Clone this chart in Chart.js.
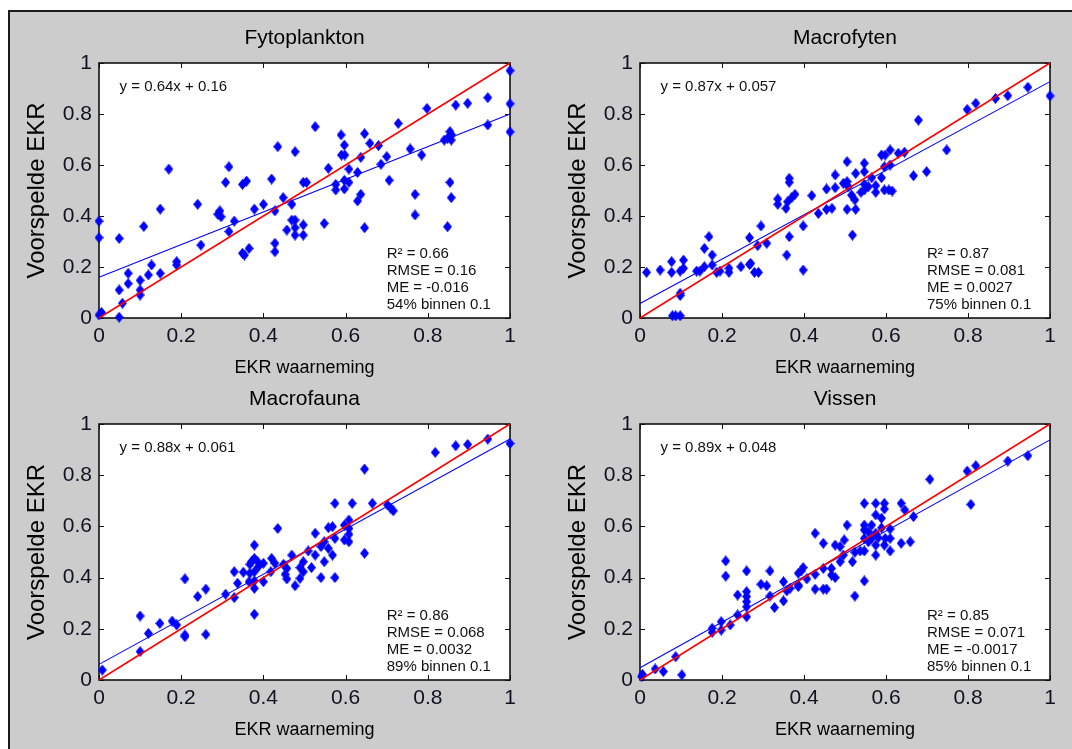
<!DOCTYPE html>
<html>
<head>
<meta charset="utf-8">
<title>EKR waarneming vs voorspelde EKR</title>
<script src="https://cdn.jsdelivr.net/npm/chart.js@4.4.1/dist/chart.umd.min.js"></script>
<style>
  html, body { margin: 0; padding: 0; background: #ffffff; width: 1072px; height: 749px; overflow: hidden; }
  #figure {
    position: absolute; left: 8px; top: 10px; width: 1100px; height: 800px;
    background: #cccccc; border-left: 2px solid #1a1a1a; border-top: 2px solid #1a1a1a;
  }
  canvas { position: absolute; }
</style>
</head>
<body>
<div id="figure"></div>
<canvas id="c1"></canvas>
<canvas id="c2"></canvas>
<canvas id="c3"></canvas>
<canvas id="c4"></canvas>
<script>
// ---- axis ticks shared by all four panels ----
const tickValues = [0, 0.2, 0.4, 0.6, 0.8, 1];
const tickLabels = ['0', '0.2', '0.4', '0.6', '0.8', '1'];

const xLabel = 'EKR waarneming';
const yLabel = 'Voorspelde EKR';

// ---- Fytoplankton ----
const fytoObs = [
  1.0,1.0,1.0,0.946,0.946,0.897,0.868,0.798,0.728,0.854,
  0.858,0.848,0.84,0.857,0.854,0.857,0.848,0.757,0.785,0.769,
  0.769,0.68,0.70,0.686,0.706,0.646,0.659,0.637,0.629,0.637,
  0.629,0.646,0.589,0.597,0.59,0.598,0.608,0.597,0.608,0.576,
  0.576,0.597,0.558,0.526,0.477,0.435,0.42,0.497,0.505,0.448,
  0.469,0.428,0.40,0.378,0.469,0.477,0.477,0.497,0.497,0.477,
  0.457,0.428,0.428,0.548,0.365,0.349,0.354,0.329,0.316,0.316,
  0.308,0.349,0.359,0.294,0.289,0.297,0.24,0.248,0.17,0.149,
  0.109,0.189,0.189,0.149,0.128,0.12,0.10,0.10,0.10,0.071,
  0.071,0.049,0.057,0.049,0.049,0.0,0.0,0.006,0.0
];
const fytoPred = [
  0.97,0.84,0.73,0.864,0.757,0.842,0.835,0.822,0.763,0.731,
  0.718,0.705,0.698,0.698,0.532,0.472,0.358,0.663,0.639,0.485,
  0.404,0.676,0.633,0.603,0.54,0.723,0.685,0.63,0.571,0.485,
  0.459,0.354,0.718,0.678,0.639,0.639,0.584,0.54,0.532,0.524,
  0.502,0.506,0.587,0.75,0.652,0.672,0.545,0.532,0.532,0.472,
  0.446,0.42,0.446,0.427,0.384,0.384,0.354,0.365,0.325,0.325,
  0.345,0.293,0.26,0.371,0.273,0.254,0.247,0.38,0.339,0.593,
  0.532,0.524,0.537,0.42,0.407,0.397,0.446,0.286,0.584,0.427,
  0.359,0.221,0.208,0.175,0.208,0.169,0.148,0.11,0.09,0.175,
  0.135,0.11,0.058,0.312,0.003,0.38,0.315,0.022,0.012
];
const fytoFit = { slope: 0.64, intercept: 0.16 };
const fytoStats = ['R\u00B2 = 0.66', 'RMSE = 0.16', 'ME = -0.016', '54% binnen 0.1'];

// ---- Macrofyten ----
const macrofytenObs = [
  1.0,0.946,0.897,0.867,0.819,0.798,0.679,0.748,0.699,0.667,
  0.645,0.63,0.61,0.589,0.598,0.61,0.596,0.589,0.607,0.596,
  0.615,0.575,0.575,0.565,0.557,0.547,0.547,0.539,0.547,0.547,
  0.526,0.505,0.505,0.496,0.508,0.516,0.524,0.505,0.526,0.518,
  0.476,0.476,0.455,0.468,0.455,0.435,0.419,0.398,0.398,0.364,
  0.364,0.378,0.37,0.36,0.356,0.336,0.336,0.364,0.358,0.295,
  0.309,0.287,0.267,0.267,0.27,0.246,0.279,0.289,0.217,0.217,
  0.195,0.187,0.176,0.176,0.168,0.157,0.157,0.146,0.138,0.106,
  0.106,0.098,0.077,0.077,0.049,0.016,0.098,0.098,0.079,0.087,
  0.098
];
const macrofytenPred = [
  0.871,0.905,0.872,0.861,0.842,0.818,0.776,0.659,0.574,0.558,
  0.65,0.646,0.659,0.639,0.639,0.60,0.593,0.55,0.502,0.502,
  0.498,0.519,0.493,0.55,0.515,0.524,0.502,0.493,0.607,0.574,
  0.567,0.613,0.535,0.528,0.515,0.482,0.463,0.426,0.426,0.325,
  0.561,0.511,0.506,0.43,0.426,0.41,0.48,0.361,0.188,0.548,
  0.532,0.485,0.472,0.456,0.43,0.467,0.446,0.319,0.247,0.361,
  0.293,0.284,0.315,0.21,0.214,0.201,0.179,0.179,0.195,0.179,
  0.184,0.179,0.247,0.208,0.319,0.273,0.201,0.184,0.184,0.227,
  0.195,0.184,0.221,0.179,0.188,0.179,0.097,0.088,0.009,0.009,
  0.009
];
const macrofytenFit = { slope: 0.87, intercept: 0.057 };
const macrofytenStats = ['R\u00B2 = 0.87', 'RMSE = 0.081', 'ME = 0.0027', '75% binnen 0.1'];

// ---- Macrofauna ----
const macrofaunaObs = [
  1.0,0.946,0.897,0.868,0.818,0.646,0.574,0.616,0.665,0.702,
  0.71,0.716,0.608,0.608,0.597,0.597,0.608,0.608,0.568,0.558,
  0.574,0.558,0.568,0.548,0.54,0.526,0.548,0.54,0.574,0.646,
  0.526,0.509,0.517,0.497,0.489,0.497,0.489,0.477,0.469,0.457,
  0.453,0.457,0.435,0.449,0.42,0.428,0.418,0.40,0.386,0.378,
  0.378,0.371,0.367,0.388,0.378,0.367,0.40,0.378,0.378,0.365,
  0.351,0.337,0.329,0.329,0.308,0.378,0.26,0.24,0.209,0.209,
  0.209,0.26,0.189,0.178,0.148,0.12,0.10,0.10,0.008
];
const macrofaunaPred = [
  0.924,0.941,0.92,0.915,0.889,0.824,0.69,0.69,0.69,0.684,
  0.671,0.661,0.625,0.592,0.605,0.547,0.54,0.569,0.599,0.595,
  0.553,0.514,0.488,0.54,0.521,0.573,0.462,0.40,0.40,0.495,
  0.488,0.504,0.439,0.462,0.439,0.423,0.397,0.368,0.488,0.436,
  0.413,0.395,0.592,0.452,0.475,0.456,0.423,0.456,0.462,0.527,
  0.475,0.462,0.452,0.443,0.423,0.417,0.384,0.387,0.358,0.384,
  0.421,0.378,0.423,0.322,0.335,0.257,0.355,0.326,0.395,0.176,
  0.169,0.178,0.215,0.23,0.221,0.182,0.25,0.111,0.039
];
const macrofaunaFit = { slope: 0.88, intercept: 0.061 };
const macrofaunaStats = ['R\u00B2 = 0.86', 'RMSE = 0.068', 'ME = 0.0032', '89% binnen 0.1'];

// ---- Vissen ----
const vissenObs = [
  0.946,0.897,0.819,0.798,0.707,0.807,0.667,0.646,0.637,0.596,
  0.575,0.547,0.596,0.575,0.589,0.61,0.589,0.565,0.547,0.547,
  0.557,0.575,0.581,0.565,0.598,0.61,0.547,0.557,0.575,0.596,
  0.61,0.637,0.659,0.505,0.498,0.476,0.488,0.496,0.488,0.518,
  0.524,0.537,0.547,0.575,0.547,0.524,0.427,0.447,0.447,0.467,
  0.476,0.467,0.427,0.427,0.447,0.455,0.398,0.393,0.386,0.407,
  0.386,0.386,0.366,0.35,0.358,0.35,0.317,0.309,0.295,0.317,
  0.328,0.26,0.26,0.26,0.26,0.26,0.26,0.238,0.238,0.209,
  0.209,0.22,0.198,0.198,0.176,0.176,0.087,0.037,0.057,0.102,
  0.006,0.004
];
const vissenPred = [
  0.876,0.855,0.837,0.816,0.784,0.686,0.638,0.664,0.69,0.69,
  0.69,0.69,0.668,0.645,0.632,0.59,0.594,0.605,0.605,0.586,
  0.579,0.573,0.556,0.553,0.553,0.553,0.553,0.54,0.527,0.527,
  0.504,0.534,0.54,0.605,0.547,0.527,0.521,0.488,0.462,0.462,
  0.499,0.504,0.504,0.488,0.387,0.328,0.573,0.534,0.436,0.436,
  0.40,0.41,0.413,0.355,0.355,0.355,0.439,0.426,0.417,0.395,
  0.371,0.365,0.358,0.384,0.348,0.309,0.426,0.368,0.374,0.328,
  0.283,0.426,0.345,0.326,0.306,0.286,0.247,0.332,0.254,0.465,
  0.406,0.215,0.228,0.195,0.202,0.186,0.091,0.043,0.033,0.02,
  0.022,0.013
];
const vissenFit = { slope: 0.89, intercept: 0.048 };
const vissenStats = ['R\u00B2 = 0.85', 'RMSE = 0.071', 'ME = -0.0017', '85% binnen 0.1'];

// ---- panel layout (plot-area rectangles on the page) ----
const panels = [
  { id: 'c1', title: 'Fytoplankton', obs: fytoObs, pred: fytoPred, fit: fytoFit, stats: fytoStats,
    box: { left: 99, top: 63, right: 510, bottom: 318 } },
  { id: 'c2', title: 'Macrofyten', obs: macrofytenObs, pred: macrofytenPred, fit: macrofytenFit, stats: macrofytenStats,
    box: { left: 640, top: 63, right: 1050, bottom: 318 } },
  { id: 'c3', title: 'Macrofauna', obs: macrofaunaObs, pred: macrofaunaPred, fit: macrofaunaFit, stats: macrofaunaStats,
    box: { left: 99, top: 424, right: 510, bottom: 680 } },
  { id: 'c4', title: 'Vissen', obs: vissenObs, pred: vissenPred, fit: vissenFit, stats: vissenStats,
    box: { left: 640, top: 424, right: 1050, bottom: 680 } }
];

const FONT = '"Liberation Sans", Arial, Helvetica, sans-serif';
const LEFT_SPACE = 90, TOP_SPACE = 55, BOTTOM_SPACE = 65, RIGHT_SPACE = 12;
const TITLE_SIZE = 21, TITLE_GAP = 25;
const TICK_SIZE = 21, XLABEL_SIZE = 18, YLABEL_SIZE = 24, NOTE_SIZE = 15;
const TICK_LEN = 5;

// filled diamond marker, slightly taller than wide
function makeDiamond(w, h, color) {
  const c = document.createElement('canvas');
  c.width = w; c.height = h;
  const g = c.getContext('2d');
  g.fillStyle = color;
  g.beginPath();
  g.moveTo(w / 2, 0);
  g.lineTo(w, h / 2);
  g.lineTo(w / 2, h);
  g.lineTo(0, h / 2);
  g.closePath();
  g.fill();
  return c;
}
const diamond = makeDiamond(9, 11, '#0000ff');

// white plot area, black box with inward tick marks on all four sides
const axesFrame = {
  id: 'axesFrame',
  beforeDatasetsDraw(chart) {
    const { ctx, chartArea: a, scales: { x, y } } = chart;
    ctx.save();
    ctx.fillStyle = '#ffffff';
    ctx.fillRect(a.left, a.top, a.right - a.left, a.bottom - a.top);
    ctx.strokeStyle = '#111111';
    ctx.lineWidth = 1;
    ctx.beginPath();
    x.ticks.forEach(t => {
      const px = Math.round(x.getPixelForValue(t.value)) + 0.5;
      ctx.moveTo(px, a.bottom); ctx.lineTo(px, a.bottom - TICK_LEN);
      ctx.moveTo(px, a.top); ctx.lineTo(px, a.top + TICK_LEN);
    });
    y.ticks.forEach(t => {
      const py = Math.round(y.getPixelForValue(t.value)) + 0.5;
      ctx.moveTo(a.left, py); ctx.lineTo(a.left + TICK_LEN, py);
      ctx.moveTo(a.right, py); ctx.lineTo(a.right - TICK_LEN, py);
    });
    ctx.stroke();
    ctx.lineWidth = 1.6;
    ctx.strokeRect(a.left, a.top, a.right - a.left, a.bottom - a.top);
    ctx.restore();
  }
};

// fit equation (top left) and statistics block (bottom right)
const fitNotes = {
  id: 'fitNotes',
  afterDatasetsDraw(chart, args, opts) {
    const { ctx, scales: { x, y } } = chart;
    ctx.save();
    ctx.fillStyle = '#111111';
    ctx.font = NOTE_SIZE + 'px ' + FONT;
    ctx.textAlign = 'left';
    ctx.textBaseline = 'middle';
    ctx.fillText(opts.equation, x.getPixelForValue(0.05), y.getPixelForValue(0.908));
    const sx = x.getPixelForValue(0.70);
    const sy = y.getPixelForValue(0.252);
    opts.stats.forEach((line, i) => ctx.fillText(line, sx, sy + i * 17.2));
    ctx.restore();
  }
};

function fmt(v) { return String(v); }

function buildPanel(p) {
  const b = p.box;
  const canvas = document.getElementById(p.id);
  const plotW = b.right - b.left, plotH = b.bottom - b.top;
  canvas.width = plotW + LEFT_SPACE + RIGHT_SPACE;
  canvas.height = plotH + TOP_SPACE + BOTTOM_SPACE;
  canvas.style.left = (b.left - LEFT_SPACE) + 'px';
  canvas.style.top = (b.top - TOP_SPACE) + 'px';

  const titleLine = TITLE_SIZE * 1.2;
  const titlePadTop = TOP_SPACE - TITLE_GAP - titleLine / 2;
  const titlePadBottom = TOP_SPACE - titleLine - titlePadTop;

  const points = p.obs.map((v, i) => ({ x: v, y: p.pred[i] }));
  const fitPts = [0, 1].map(v => ({ x: v, y: p.fit.slope * v + p.fit.intercept }));
  const onePts = [0, 1].map(v => ({ x: v, y: v }));
  const equation = 'y = ' + fmt(p.fit.slope) + 'x + ' + fmt(p.fit.intercept);

  const setTicks = s => { s.ticks = tickValues.map(v => ({ value: v })); };
  const tickFont = { family: FONT, size: TICK_SIZE };

  new Chart(canvas, {
    type: 'scatter',
    data: {
      datasets: [
        { label: '1:1', data: onePts, showLine: true, borderColor: '#ff0000', borderWidth: 1.5,
          pointRadius: 0, order: 0, clip: false },
        { label: 'fit', data: fitPts, showLine: true, borderColor: '#0000ff', borderWidth: 1.1,
          pointRadius: 0, order: 1, clip: false },
        { label: p.title, data: points, pointStyle: diamond, pointRadius: 5,
          backgroundColor: '#0000ff', borderWidth: 0, order: 2, clip: false }
      ]
    },
    options: {
      responsive: false,
      animation: false,
      events: [],
      layout: { padding: { left: 0, right: RIGHT_SPACE, top: 0, bottom: 0 } },
      plugins: {
        legend: { display: false },
        tooltip: { enabled: false },
        title: {
          display: true, text: p.title, color: '#000000', fullSize: false,
          font: { family: FONT, size: TITLE_SIZE, weight: 'normal' },
          padding: { top: titlePadTop, bottom: titlePadBottom }
        },
        fitNotes: { equation: equation, stats: p.stats }
      },
      scales: {
        x: {
          type: 'linear', min: 0, max: 1,
          afterBuildTicks: setTicks,
          afterFit: s => { s.height = BOTTOM_SPACE; },
          grid: { display: false, drawTicks: false },
          border: { display: false },
          ticks: { callback: (v, i) => tickLabels[i], font: tickFont, color: '#111122',
                   padding: 6, maxRotation: 0, autoSkip: false },
          title: { display: true, text: xLabel, color: '#000000',
                   font: { family: FONT, size: XLABEL_SIZE }, padding: { top: 0, bottom: 4 } }
        },
        y: {
          type: 'linear', min: 0, max: 1,
          afterBuildTicks: setTicks,
          afterFit: s => { s.width = LEFT_SPACE; },
          grid: { display: false, drawTicks: false },
          border: { display: false },
          ticks: { callback: (v, i) => tickLabels[i], font: tickFont, color: '#111122',
                   padding: 7, autoSkip: false },
          title: { display: true, text: yLabel, color: '#000000',
                   font: { family: FONT, size: YLABEL_SIZE }, padding: { top: 14, bottom: 0 } }
        }
      }
    },
    plugins: [axesFrame, fitNotes]
  });
}

panels.forEach(buildPanel);
</script>
</body>
</html>
